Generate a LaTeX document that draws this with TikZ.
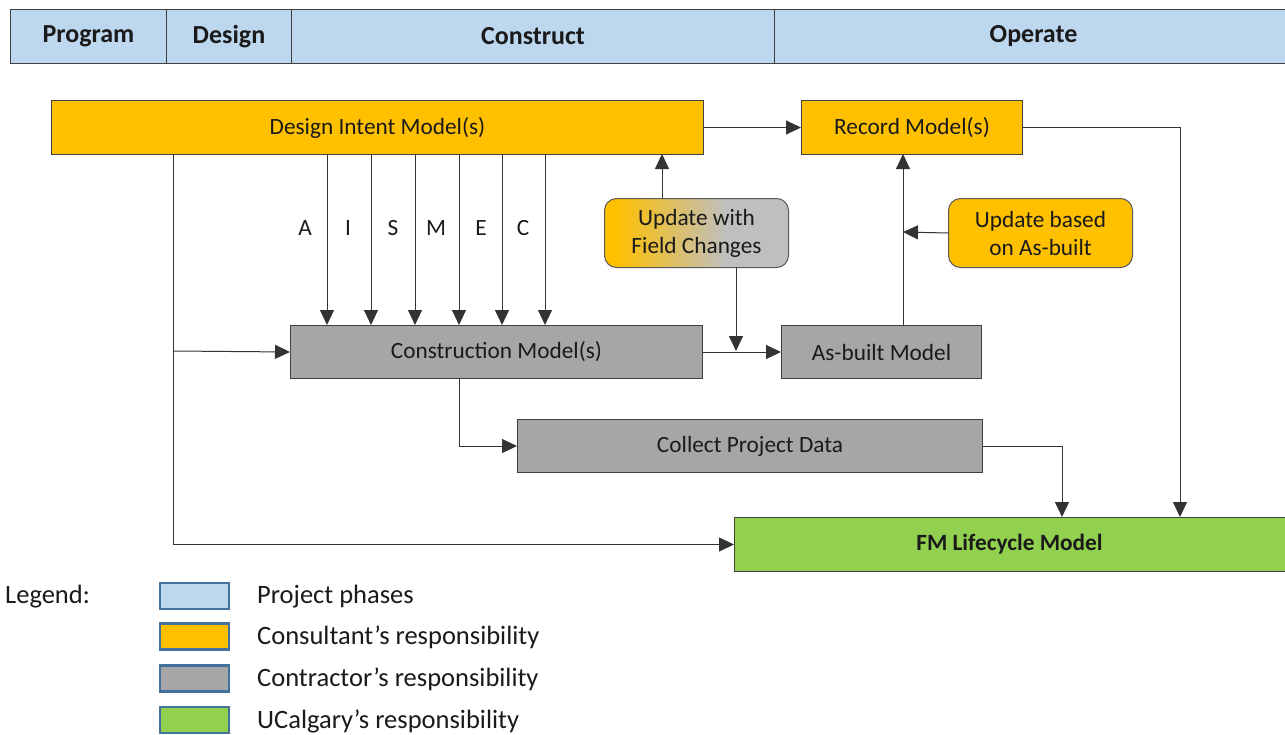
\documentclass[tikz,border=0pt]{standalone}
\usepackage{fontspec}
\setmainfont{Carlito}
\usetikzlibrary{arrows.meta,calc}
\definecolor{phase}{HTML}{BDD7EE}
\definecolor{cons}{HTML}{FFC000}
\definecolor{contr}{HTML}{A6A6A6}
\definecolor{ucal}{HTML}{92D050}
\definecolor{lgray}{HTML}{BFBFBF}
\definecolor{legb}{HTML}{41719C}
\definecolor{ink}{HTML}{1A1A1A}
\pgfdeclarehorizontalshading{fieldchg}{100bp}{color(0bp)=(cons); color(28bp)=(cons); color(58bp)=(lgray); color(100bp)=(lgray)}
\begin{document}
\begin{tikzpicture}[x=1pt,y=-1pt,
  font=\fontsize{23.3}{28}\selectfont,
  box/.style={draw=black!75, line width=1pt, inner sep=0pt, anchor=north west, text=ink},
  hdr/.style={box, fill=phase, minimum height=54pt, font=\fontsize{26}{28}\selectfont\bfseries},
  rbox/.style={box, rounded corners=12pt, align=center, minimum width=184pt, minimum height=69pt, draw=black!65},
  lg/.style={draw=legb, line width=2.6pt, minimum width=69pt, minimum height=26pt, inner sep=0pt},
  lgt/.style={anchor=west, text=ink, font=\fontsize{26.5}{30}\selectfont, inner sep=0pt},
  arr/.style={draw=black!80, line width=1pt, -{Triangle[length=15pt,width=14pt]}},
  lbl/.style={text=ink, inner sep=0pt}]
\useasboundingbox (0,0) rectangle (1285,734);

% header
\node[hdr, minimum width=156pt] (h1) at (10,9) {Program};
\node[hdr, minimum width=125pt] (h2) at (166,9) {Design};
\node[hdr, minimum width=483pt] (h3) at (291,9) {Construct};
\node[hdr, minimum width=530pt] (h4) at (774,9) {\hspace*{-12pt}Operate};

% main boxes
\node[box, fill=cons, minimum width=652pt, minimum height=54pt] (di) at (51,100) {Design Intent Model(s)};
\node[box, fill=cons, minimum width=221pt, minimum height=54pt] (rm) at (801,100) {Record Model(s)};
\node[box, fill=contr, minimum width=412pt, minimum height=53pt] (cm) at (290,325) {Construction Model(s)};
\node[box, fill=contr, minimum width=200pt, minimum height=53pt] (ab) at (781,325) {As-built Model};
\node[box, fill=contr, minimum width=465pt, minimum height=53pt] (cpd) at (517,419) {Collect Project Data};
\node[box, fill=ucal, minimum width=560pt, minimum height=54pt, font=\fontsize{23.3}{28}\selectfont\bfseries] (fm) at (734,517) {\hspace*{-10pt}FM Lifecycle Model};
\node[rbox, shading=fieldchg] (fc) at (604,198) {Update with\\Field Changes};
\node[rbox, fill=cons] (ua) at (948,198) {Update based\\on As-built};

% coordinates
\coordinate (dl) at (173,154);
\coordinate (j1) at (173,351);
\coordinate (fmr) at (1180,517);
\coordinate (fmc) at (1062,517);
\coordinate (fcu) at (662,198);
\coordinate (diu) at (662,154);
\coordinate (fcd) at (736,267);
\coordinate (mid) at (736,351);
\coordinate (abt) at (903,325);
\coordinate (rmb) at (903,154);
\coordinate (vj) at (903,232);
\coordinate (cmb) at (459,378);

% connectors
\draw[arr] (di.east) -- (rm.west);
\draw[arr] (rm.east) -| (fmr);
\draw[arr] (dl) |- (fm.west);
\draw[arr] (j1) -- (cm.west);
\draw[arr] (cm.east) -- (ab.west);
\draw[arr] (fcu) -- (diu);
\draw[arr] (fcd) -- (mid);
\draw[arr] (abt) -- (rmb);
\draw[arr] (ua.west) -- (vj);
\draw[arr] (cmb) |- (cpd.west);
\draw[arr] (cpd.east) -| (fmc);

% discipline arrows
\foreach \x/\l/\lx in {327/A/305, 371/I/348, 415/S/393, 459/M/436, 502/E/481, 545/C/523}{
  \coordinate (t\l) at (\x,154);
  \coordinate (b\l) at (\x,325);
  \draw[arr] (t\l) -- (b\l);
  \node[lbl] (lab\l) at (\lx,228) {\l};
}

% legend
\node[lgt] (legt) at (5,597) {Legend:};
\node[lg, fill=phase] (l1) at (194.5,596) {};
\node[lg, fill=cons] (l2) at (194.5,636.5) {};
\node[lg, fill=contr] (l3) at (194.5,678.5) {};
\node[lg, fill=ucal] (l4) at (194.5,720) {};
\node[lgt] (t1) at (257,597) {Project phases};
\node[lgt] (t2) at (257,637) {Consultant’s responsibility};
\node[lgt] (t3) at (257,679) {Contractor’s responsibility};
\node[lgt] (t4) at (257,721) {UCalgary’s responsibility};
\end{tikzpicture}
\end{document}
